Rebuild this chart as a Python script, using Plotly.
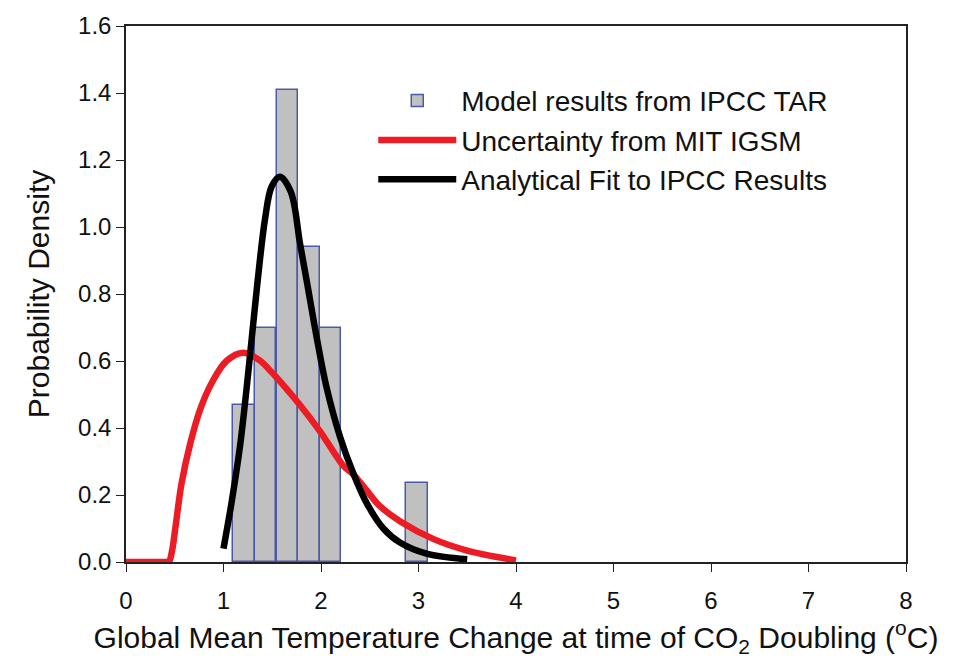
import plotly.graph_objects as go

# Histogram of IPCC TAR model results (bin centers, densities)
bin_centers = [1.21, 1.43, 1.655, 1.875, 2.10, 2.985]
bin_density = [0.47, 0.70, 1.41, 0.94, 0.70, 0.235]
bin_width = 0.22

# Uncertainty from MIT IGSM (red)
red_x = [0, 0.42, 0.44, 0.47, 0.51, 0.57, 0.66, 0.76, 0.88, 1.03, 1.20, 1.37, 1.49, 1.58,
         1.78, 1.99, 2.23, 2.33, 2.47, 2.61, 2.81, 3.15, 3.49, 4.0]
red_y = [0, 0, 0.0, 0.03, 0.11, 0.235, 0.355, 0.455, 0.535, 0.60, 0.625, 0.602, 0.568, 0.539,
         0.47, 0.39, 0.287, 0.262, 0.213, 0.165, 0.122, 0.069, 0.035, 0.005]

# Analytical fit to IPCC results (black)
blk_x = [1.0, 1.084, 1.169, 1.255, 1.34, 1.426, 1.494, 1.579, 1.69, 1.785, 1.853, 1.956,
         2.058, 2.195, 2.331, 2.47, 2.64, 2.81, 3.08, 3.5]
blk_y = [0.04, 0.18, 0.345, 0.568, 0.811, 1.024, 1.121, 1.15, 1.105, 0.95, 0.84, 0.67,
         0.52, 0.374, 0.265, 0.175, 0.10, 0.058, 0.025, 0.008]

x_ticks = [0, 1, 2, 3, 4, 5, 6, 7, 8]
y_ticks = [0.0, 0.2, 0.4, 0.6, 0.8, 1.0, 1.2, 1.4, 1.6]

fig = go.Figure()
fig.add_trace(go.Bar(
    x=bin_centers, y=bin_density, width=[bin_width] * len(bin_centers),
    marker=dict(color="#c0c0c0", line=dict(color="#4a5aaa", width=1.5)),
    name="Model results from IPCC TAR",
))
fig.add_trace(go.Scatter(
    x=red_x, y=red_y, mode="lines", line=dict(color="#ec1c24", width=6.5, shape="spline"),
    name="Uncertainty from MIT IGSM",
))
fig.add_trace(go.Scatter(
    x=blk_x, y=blk_y, mode="lines", line=dict(color="#000000", width=6.5, shape="spline"),
    name="Analytical Fit to IPCC Results",
))

font_family = "Liberation Sans, Arial, sans-serif"
fig.update_layout(
    width=954, height=668,
    margin=dict(l=126, r=48, t=12, b=106),
    plot_bgcolor="white", paper_bgcolor="white",
    font=dict(family=font_family, size=24, color="#111111"),
    showlegend=True,
    legend=dict(x=0.317, y=0.907, xanchor="left", yanchor="top",
                bgcolor="rgba(0,0,0,0)", font=dict(size=28), tracegroupgap=0,
                itemwidth=78),
    bargap=0,
)
fig.update_xaxes(
    range=[0, 8], tickvals=x_ticks, ticktext=[str(v) for v in x_ticks],
    showline=True, linecolor="#222222", linewidth=1.5, mirror=True,
    ticks="outside", ticklen=8, tickcolor="#222222", showgrid=False, zeroline=False,
    ticklabelstandoff=8,
    title=dict(text="Global Mean Temperature Change at time of CO<sub>2</sub> Doubling (<sup>o</sup>C)",
               font=dict(size=30), standoff=14),
)
fig.update_yaxes(
    range=[0, 1.6], tickvals=y_ticks, ticktext=[f"{v:.1f}" for v in y_ticks],
    showline=True, linecolor="#222222", linewidth=1.5, mirror=True,
    ticks="outside", ticklen=8, tickcolor="#222222", showgrid=False, zeroline=False,
    title=dict(text="Probability Density", font=dict(size=30), standoff=20),
)

fig.write_html("out.html")
